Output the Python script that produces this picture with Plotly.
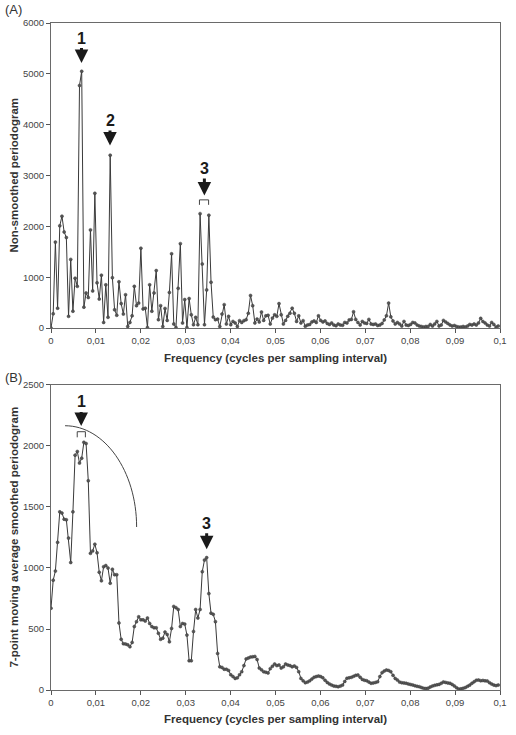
import plotly.graph_objects as go
from plotly.subplots import make_subplots

# ---- data ----
n_samples = 2048
raw_periodogram = [
    0, 280, 1690, 390, 2010, 2200, 1890, 1780, 230, 1350,
    330, 980, 820, 4770, 5050, 410, 690, 600, 1930, 730,
    2650, 890, 570, 1040, 110, 850, 210, 3400, 990, 360,
    250, 910, 480, 275, 655, 30, 110, 240, 820, 440,
    490, 1570, 375, 390, 10, 850, 330, 690, 1130, 165,
    440, 30, 385, 150, 700, 1460, 80, 10, 780, 1660,
    100, 560, 10, 580, 260, 65, 210, 65, 2250, 1260,
    65, 750, 2220, 900, 215, 165, 175, 30, 275, 460,
    80, 230, 65, 130, 100, 30, 145, 110, 145, 165,
    290, 640, 440, 100, 175, 120, 315, 150, 240, 250,
    80, 195, 260, 230, 480, 260, 80, 150, 230, 290,
    390, 290, 130, 240, 100, 145, 35, 60, 70, 120,
    140, 110, 240, 150, 120, 140, 90, 70, 100, 60,
    45, 80, 60, 55, 110, 100, 160, 170, 320, 170,
    110, 60, 130, 100, 90, 170, 80, 70, 80, 50,
    60, 90, 160, 240, 490, 220, 140, 80, 110, 80,
    40, 130, 60, 50, 70, 110, 100, 60, 40, 30,
    20, 30, 30, 70, 40, 80, 130, 40, 60, 150,
    120, 90, 60, 40, 50, 30, 20, 20, 30, 20,
    40, 70, 60, 80, 60, 100, 190, 130, 100, 60,
    40, 110, 70, 20, 40,
]
smoothed_periodogram = [
    670, 900, 975, 1210, 1460, 1450, 1400, 1395, 1245, 1045,
    1460, 1925, 1955, 1860, 1900, 2030, 2020, 1715, 1120, 1140,
    1195, 1125, 965, 895, 1010, 1020, 1000, 875, 990, 945,
    945, 550, 415, 380, 377, 370, 355, 390, 520, 560,
    600, 575, 575, 565, 590, 545, 520, 510, 510, 465,
    415, 425, 475, 455, 395, 505, 685, 675, 660, 520,
    545, 540, 450, 240, 240, 480, 660, 590, 660, 970,
    1065, 1085, 790, 630, 620, 560, 300, 190, 185, 170,
    170, 160, 125, 110, 95, 100, 125, 150, 200, 255,
    262, 270, 272, 275, 250, 180, 165, 150, 145, 140,
    175, 195, 213, 200, 205, 180, 190, 213, 205, 200,
    190, 197, 185, 150, 95, 75, 60, 65, 75, 90,
    104, 110, 115, 110, 100, 80, 62, 50, 40, 33,
    30, 27, 32, 41, 70, 96, 100, 104, 112, 120,
    123, 105, 87, 80, 76, 65, 55, 58, 62, 68,
    110, 142, 155, 164, 160, 150, 120, 95, 82, 65,
    60, 58, 55, 50, 45, 41, 35, 30, 27, 20,
    14, 12, 15, 25, 33, 38, 42, 46, 55, 66,
    62, 58, 55, 45, 33, 18, 8, 10, 14, 20,
    30, 40, 55, 68, 80, 82, 76, 78, 75, 74,
    60, 49, 40, 36, 41,
]
frequency = [k / n_samples for k in range(len(raw_periodogram))]
x_tick_vals = [0, 0.01, 0.02, 0.03, 0.04, 0.05, 0.06, 0.07, 0.08, 0.09, 0.1]
x_tick_text = ["0", "0,01", "0,02", "0,03", "0,04", "0,05", "0,06", "0,07", "0,08", "0,09", "0,1"]
top_y_ticks = [0, 1000, 2000, 3000, 4000, 5000, 6000]
bottom_y_ticks = [0, 500, 1000, 1500, 2000, 2500]

FONT = "Liberation Sans, Arial, sans-serif"
LINE_C = "#3a3a3a"

fig = make_subplots(rows=2, cols=1, vertical_spacing=0.0855)

for row, series in ((1, raw_periodogram), (2, smoothed_periodogram)):
    fig.add_trace(go.Scatter(
        x=frequency, y=series, mode="lines+markers",
        line=dict(color=LINE_C, width=1),
        marker=dict(size=3, color="#555", line=dict(color=LINE_C, width=0.5)),
        showlegend=False, hoverinfo="skip"), row=row, col=1)

axis_common = dict(showline=True, linecolor="#6a6a6a", linewidth=1, mirror=True,
                   ticks="outside", ticklen=4, tickcolor="#555", showgrid=False,
                   zeroline=False, tickfont=dict(family=FONT, size=9.5, color="#444"))
for r in (1, 2):
    fig.update_xaxes(range=[0, 0.1], tickvals=x_tick_vals, ticktext=x_tick_text,
                     row=r, col=1, **axis_common)
fig.update_yaxes(range=[0, 6000], tickvals=top_y_ticks, row=1, col=1, **axis_common)
fig.update_yaxes(range=[0, 2500], tickvals=bottom_y_ticks, row=2, col=1, **axis_common)
fig.update_yaxes(domain=[0.5427, 1.0], row=1, col=1)
fig.update_yaxes(domain=[0.0, 0.4573], row=2, col=1)

ann = []
def num_label(txt, x, y, ay, xref, yref):
    ann.append(dict(x=x, y=y, xref=xref, yref=yref, text="<b>%s</b>" % txt,
                    showarrow=True, ax=0, ay=ay, arrowhead=2, arrowsize=0.9,
                    arrowwidth=3, arrowcolor="#1a1a1a",
                    font=dict(family=FONT, size=16, color="#1a1a1a")))

num_label("1", 0.00679, 5213, -25, "x", "y")
num_label("2", 0.01314, 3588, -25, "x", "y")
num_label("3", 0.03416, 2606, -27, "x", "y")
num_label("1", 0.00672, 2164, -24, "x2", "y2")
num_label("3", 0.03467, 1153, -26, "x2", "y2")

def text_ann(txt, x, y, size, bold=False, angle=0, xanchor="center"):
    ann.append(dict(x=x, y=y, xref="paper", yref="paper", showarrow=False,
                    text=("<b>%s</b>" % txt) if bold else txt, textangle=angle,
                    xanchor=xanchor, yanchor="middle",
                    font=dict(family=FONT, size=size, color="#333")))

text_ann("(A)", -0.108, 1.0195, 13, xanchor="left")
text_ann("(B)", -0.108, 0.468, 13, xanchor="left")
text_ann("Frequency (cycles per sampling interval)", 0.5, (690 - 358) / 667, 11.5, bold=True)
text_ann("Frequency (cycles per sampling interval)", 0.5, (690 - 719) / 667, 11.5, bold=True)
text_ann("Non-smoothed periodogram", (13 - 51) / 456, (690 - 175) / 667, 11.5, bold=True, angle=-90)
text_ann("7-point moving average smoothed periodogram", (13 - 51) / 456, (690 - 537) / 667, 11.5, bold=True, angle=-90)

shapes = [
    dict(type="path", xref="x", yref="y", line=dict(color="#444", width=1),
         path="M 0.03306,2423 L 0.03306,2521 L 0.03510,2521 L 0.03510,2423"),
    dict(type="path", xref="x2", yref="y2", line=dict(color="#444", width=1),
         path="M 0.00584,2071 L 0.00584,2117 L 0.00766,2117 L 0.00766,2071"),
]
cx, cy, rx, ry, kk = 0.00313, 1336, 0.01594, 830, 0.5523
shapes.append(dict(type="path", xref="x2", yref="y2", line=dict(color="#444", width=1),
                   path="M %f,%f C %f,%f %f,%f %f,%f" % (
                       cx, cy + ry, cx + kk * rx, cy + ry, cx + rx, cy + kk * ry, cx + rx, cy)))

fig.update_layout(width=516, height=735, margin=dict(l=51, r=9, t=23, b=45),
                  paper_bgcolor="white", plot_bgcolor="white",
                  annotations=ann, shapes=shapes,
                  font=dict(family=FONT, color="#333"))
fig.write_html("out.html")
